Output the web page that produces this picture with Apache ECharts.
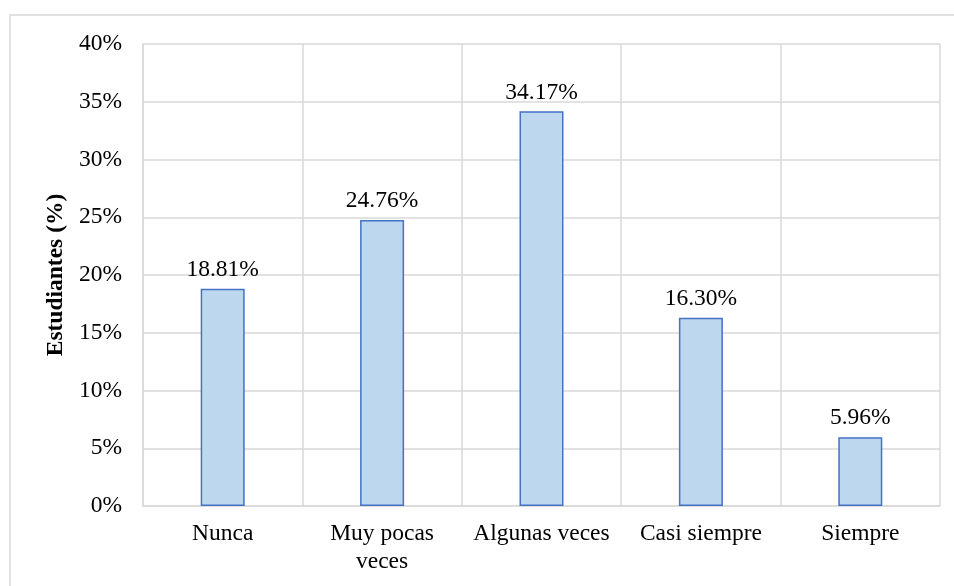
<!DOCTYPE html>
<html>
<head>
<meta charset="utf-8">
<script src="https://cdn.jsdelivr.net/npm/echarts@6/dist/echarts.min.js"></script>
<style>
html,body{margin:0;padding:0;background:#fff;}
#chart{width:954px;height:586px;}
</style>
</head>
<body>
<div id="chart"></div>
<script>
var categories = ['Nunca', 'Muy pocas\nveces', 'Algunas veces', 'Casi siempre', 'Siempre'];
var values = [18.81, 24.76, 34.17, 16.30, 5.96];
var yTicks = [0, 5, 10, 15, 20, 25, 30, 35, 40];
var yAxisTitle = 'Estudiantes (%)';

var FONT = '"Liberation Serif", "Times New Roman", serif';
var chart = echarts.init(document.getElementById('chart'), null, {renderer: 'canvas'});
chart.setOption({
  backgroundColor: '#ffffff',
  animation: false,
  graphic: [{
    type: 'rect',
    shape: {x: 10, y: 15, width: 980, height: 620},
    style: {fill: 'none', stroke: '#d9d9d9', lineWidth: 1.5},
    silent: true
  }],
  grid: {left: 143, right: 14, top: 44, bottom: 80, containLabel: false},
  xAxis: {
    type: 'category',
    data: categories,
    boundaryGap: true,
    axisLine: {show: true, lineStyle: {color: '#d9d9d9', width: 1.5}},
    axisTick: {show: false},
    splitLine: {show: true, lineStyle: {color: '#d9d9d9', width: 1.5}},
    axisLabel: {
      interval: 0,
      color: '#000',
      fontFamily: FONT,
      fontSize: 23.5,
      lineHeight: 28,
      margin: 14
    }
  },
  yAxis: {
    type: 'value',
    min: yTicks[0],
    max: yTicks[yTicks.length - 1],
    interval: yTicks[1] - yTicks[0],
    name: yAxisTitle,
    nameLocation: 'middle',
    nameGap: 73,
    nameRotate: 90,
    nameTextStyle: {color: '#000', fontFamily: FONT, fontSize: 23.5, fontWeight: 'bold'},
    axisLine: {show: true, lineStyle: {color: '#d9d9d9', width: 1.5}},
    axisTick: {show: false},
    splitLine: {show: true, lineStyle: {color: '#d9d9d9', width: 1.5}},
    axisLabel: {
      color: '#000',
      fontFamily: FONT,
      fontSize: 23.5,
      margin: 21,
      formatter: function (v) { return v + '%'; }
    }
  },
  series: [{
    type: 'bar',
    data: values,
    barWidth: 44,
    itemStyle: {color: '#bdd7ee', borderColor: '#4472c4', borderWidth: 1.5},
    label: {
      show: true,
      position: 'top',
      distance: 7,
      color: '#000',
      fontFamily: FONT,
      fontSize: 23.5,
      formatter: function (p) { return p.value.toFixed(2) + '%'; }
    }
  }]
});
</script>
</body>
</html>
